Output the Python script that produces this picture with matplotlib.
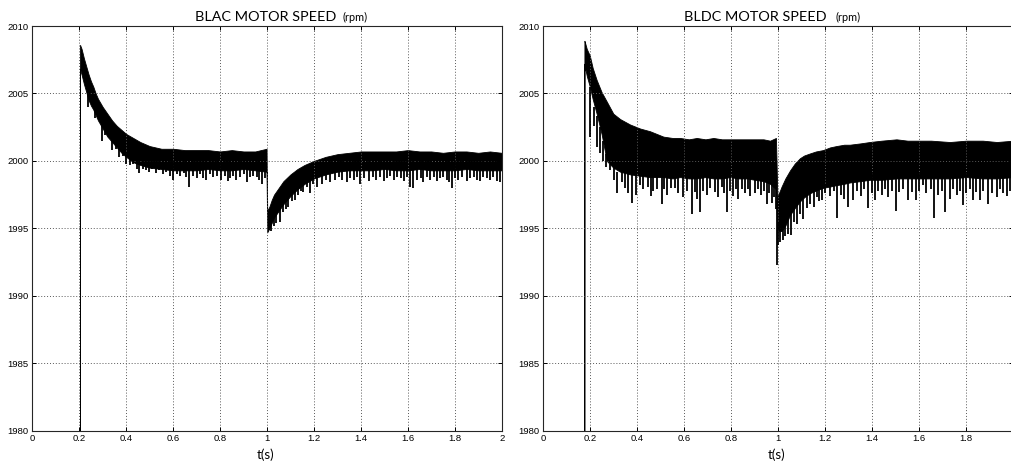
import numpy as np
import matplotlib.pyplot as plt
from matplotlib.ticker import FormatStrFormatter

# ---- BLAC motor speed (left) : band envelope ----
blac_t = [0.2030, 0.2035, 0.21, 0.22, 0.23, 0.24, 0.25, 0.26, 0.27, 0.28,
          0.30, 0.32, 0.34, 0.36, 0.38, 0.40, 0.43, 0.46, 0.50, 0.55,
          0.60, 0.65, 0.70, 0.75, 0.80, 0.85, 0.90, 0.95, 0.998, 1.001,
          1.01, 1.02, 1.03, 1.05, 1.07, 1.10, 1.13, 1.16, 1.20, 1.25,
          1.30, 1.35, 1.40, 1.45, 1.50, 1.55, 1.60, 1.65, 1.70, 1.75,
          1.80, 1.85, 1.90, 1.95, 2.00]
blac_hi = [1975, 2008.6, 2008.3, 2007.6, 2007.0, 2006.4, 2005.9, 2005.5, 2005.0, 2004.6,
           2004.0, 2003.5, 2003.0, 2002.6, 2002.3, 2002.0, 2001.7, 2001.4, 2001.1, 2000.9,
           2000.9, 2000.8, 2000.8, 2000.8, 2000.7, 2000.8, 2000.7, 2000.7, 2000.9, 1996.3,
           1996.6, 1997.1, 1997.5, 1998.0, 1998.5, 1999.0, 1999.4, 1999.7, 2000.0, 2000.3,
           2000.5, 2000.6, 2000.7, 2000.7, 2000.7, 2000.7, 2000.8, 2000.7, 2000.7, 2000.6,
           2000.7, 2000.7, 2000.6, 2000.7, 2000.6]
blac_lo = [1975, 2006.8, 2006.4, 2005.7, 2005.1, 2004.5, 2004.1, 2003.8, 2003.4, 2003.0,
           2002.4, 2001.8, 2001.4, 2001.0, 2000.6, 2000.3, 1999.9, 1999.7, 1999.5, 1999.4,
           1999.3, 1999.3, 1999.3, 1999.4, 1999.3, 1999.3, 1999.4, 1999.3, 1999.2, 1994.7,
           1995.0, 1995.4, 1995.8, 1996.3, 1996.8, 1997.4, 1997.9, 1998.3, 1998.7, 1999.0,
           1999.2, 1999.3, 1999.3, 1999.3, 1999.4, 1999.3, 1999.3, 1999.4, 1999.3, 1999.3,
           1999.3, 1999.4, 1999.3, 1999.3, 1999.3]
# downward spikes below the band: time, bottom, top
blac_spk_t = [0.239, 0.266, 0.296, 0.31, 0.339, 0.355, 0.368, 0.385, 0.400, 0.415,
              0.43, 0.445, 0.456, 0.47, 0.485, 0.498, 0.512, 0.527, 0.54, 0.555,
              0.57, 0.585, 0.601, 0.615, 0.63, 0.645, 0.657, 0.669, 0.685, 0.70,
              0.714, 0.728, 0.742, 0.757, 0.771, 0.785, 0.806, 0.82, 0.832, 0.842,
              0.856, 0.870, 0.885, 0.90, 0.913, 0.928, 0.942, 0.956, 0.967, 0.977,
              0.99,
              1.008, 1.015, 1.028, 1.04, 1.055, 1.068, 1.08, 1.091, 1.105, 1.119,
              1.133, 1.145, 1.155, 1.17, 1.183, 1.198, 1.212, 1.233, 1.25, 1.269,
              1.29, 1.305, 1.32, 1.34, 1.355, 1.369, 1.385, 1.397, 1.415, 1.433,
              1.45, 1.465, 1.48, 1.497, 1.51, 1.525, 1.539, 1.555, 1.57, 1.585,
              1.598, 1.609, 1.624, 1.64, 1.655, 1.666, 1.68, 1.695, 1.71, 1.723,
              1.738, 1.752, 1.765, 1.777, 1.787, 1.80, 1.815, 1.83, 1.851, 1.865,
              1.88, 1.895, 1.908, 1.922, 1.936, 1.95, 1.965, 1.978, 1.993]
blac_spk_lo = [2004.0, 2003.2, 2001.5, 2001.9, 2000.8, 2000.9, 2000.3, 2000.4, 1999.8, 1999.7,
               1999.8, 1999.4, 1999.1, 1999.4, 1999.3, 1999.2, 1999.4, 1999.1, 1999.3, 1999.0,
               1999.2, 1998.9, 1998.6, 1999.0, 1998.9, 1999.1, 1998.8, 1998.1, 1998.9, 1998.7,
               1999.0, 1998.7, 1998.6, 1999.0, 1998.8, 1998.9, 1998.6, 1998.9, 1998.5, 1998.7,
               1998.9, 1998.6, 1998.8, 1999.0, 1998.4, 1998.8, 1998.9, 1998.8, 1998.6, 1998.3,
               1998.7,
               1994.9, 1994.8, 1995.2, 1995.4, 1995.5, 1996.2, 1996.4, 1996.6, 1997.0, 1997.1,
               1997.5, 1997.8, 1997.7, 1998.1, 1997.6, 1998.3, 1998.1, 1998.3, 1998.6, 1998.4,
               1998.6, 1998.8, 1998.6, 1998.4, 1998.7, 1998.6, 1998.8, 1998.3, 1998.7, 1998.5,
               1998.8, 1998.6, 1998.8, 1998.5, 1998.7, 1998.9, 1998.6, 1998.8, 1998.7, 1998.5,
               1998.8, 1998.1, 1998.0, 1998.6, 1998.7, 1998.4, 1998.8, 1998.6, 1998.8, 1998.5,
               1998.7, 1998.8, 1998.6, 1998.4, 1998.0, 1998.7, 1998.6, 1998.8, 1998.5, 1998.7,
               1998.8, 1998.6, 1998.5, 1998.8, 1998.7, 1998.6, 1998.8, 1998.5, 1998.4]
blac_spk_hi = ([2005.0, 2004.0, 2002.8, 2002.3, 2001.8, 2001.5, 2001.3, 2001.0, 2000.6, 2000.5,
                2000.3, 2000.2] + [2000.0] * 39
               + [1995.3, 1995.5, 1996.0, 1996.2, 1996.7, 1997.0, 1997.2, 1997.5, 1997.8, 1998.0,
                  1998.3, 1998.5, 1998.6, 1998.8, 1999.0, 1999.1, 1999.2, 1999.4, 1999.5]
               + [2000.0] * 50)

# ---- BLDC motor speed (right) ----
bldc_t = [0.1745, 0.1750, 0.177, 0.185, 0.198, 0.21, 0.227, 0.248, 0.27, 0.298,
          0.327, 0.369, 0.412, 0.454, 0.511, 0.55, 0.582, 0.62, 0.653, 0.69,
          0.724, 0.76, 0.795, 0.83, 0.866, 0.90, 0.937, 0.965, 0.990, 0.996,
          1.005, 1.014, 1.03, 1.05, 1.07, 1.092, 1.11, 1.134, 1.16, 1.19,
          1.22, 1.247, 1.28, 1.304, 1.35, 1.389, 1.44, 1.503, 1.55, 1.588,
          1.65, 1.73, 1.80, 1.87, 1.93, 2.0]
bldc_hi = [1975, 2008.9, 2008.8, 2008.3, 2007.8, 2006.9, 2006.0, 2005.1, 2004.4, 2003.5,
           2003.1, 2002.7, 2002.4, 2002.2, 2001.8, 2001.7, 2001.7, 2001.6, 2001.7, 2001.6,
           2001.7, 2001.6, 2001.6, 2001.6, 2001.6, 2001.6, 2001.6, 2001.5, 2001.7, 1997.4,
           1997.7, 1998.1, 1998.7, 1999.3, 1999.8, 2000.2, 2000.4, 2000.55, 2000.7, 2000.8,
           2001.0, 2001.1, 2001.2, 2001.2, 2001.3, 2001.4, 2001.5, 2001.6, 2001.5, 2001.5,
           2001.5, 2001.4, 2001.5, 2001.5, 2001.4, 2001.5]
bldc_lo = [1975, 2007.2, 2007.0, 2006.3, 2005.5, 2004.6, 2003.5, 2002.0, 2000.0, 1999.5,
           1999.2, 1999.0, 1998.9, 1998.8, 1998.8, 1998.7, 1998.8, 1998.7, 1998.7, 1998.8,
           1998.7, 1998.7, 1998.8, 1998.7, 1998.7, 1998.6, 1998.5, 1998.3, 1997.9, 1995.0,
           1994.8, 1994.8, 1995.2, 1996.0, 1996.5, 1997.0, 1997.3, 1997.6, 1997.8, 1998.0,
           1998.1, 1998.2, 1998.3, 1998.4, 1998.5, 1998.6, 1998.6, 1998.7, 1998.7, 1998.7,
           1998.7, 1998.7, 1998.8, 1998.7, 1998.7, 1998.8]
bldc_spk_t = [0.199, 0.215, 0.228, 0.241, 0.255, 0.267, 0.284, 0.30, 0.315, 0.333,
              0.347, 0.361, 0.378, 0.393, 0.410, 0.425, 0.446, 0.457, 0.467, 0.485,
              0.503, 0.515, 0.527, 0.545, 0.560, 0.575, 0.596, 0.61, 0.631, 0.645,
              0.655, 0.667, 0.68, 0.695, 0.71, 0.731, 0.745, 0.759, 0.770, 0.780,
              0.795, 0.809, 0.820, 0.830, 0.845, 0.858, 0.870, 0.880, 0.901, 0.915,
              0.928, 0.940, 0.951, 0.962, 0.972, 0.983, 0.990, 0.994,
              0.998, 1.008, 1.019, 1.03, 1.040, 1.055, 1.068, 1.08, 1.092, 1.106,
              1.12, 1.135, 1.15, 1.163, 1.175, 1.184, 1.20, 1.220, 1.235, 1.251,
              1.265, 1.28, 1.298, 1.319, 1.335, 1.35, 1.365, 1.383, 1.397, 1.411,
              1.425, 1.44, 1.455, 1.468, 1.485, 1.500, 1.515, 1.53, 1.553, 1.568,
              1.588, 1.60, 1.617, 1.63, 1.648, 1.664, 1.68, 1.695, 1.709, 1.730,
              1.745, 1.76, 1.775, 1.787, 1.80, 1.815, 1.829, 1.843, 1.858, 1.872,
              1.894, 1.91, 1.929, 1.945, 1.958, 1.972, 1.985]
bldc_spk_lo = [2001.8, 2002.6, 2001.0, 2000.55, 2000.0, 1999.55, 1999.3, 1998.6, 1997.6, 1998.4,
               1998.0, 1997.6, 1996.9, 1997.5, 1998.2, 1997.9, 1998.1, 1997.4, 1997.8, 1997.9,
               1996.8, 1997.9, 1997.5, 1998.0, 1998.0, 1997.6, 1997.3, 1997.8, 1996.1, 1997.7,
               1997.2, 1996.2, 1997.8, 1997.5, 1998.0, 1997.7, 1997.3, 1998.1, 1997.6, 1996.2,
               1997.8, 1997.4, 1997.9, 1997.2, 1997.9, 1997.6, 1997.9, 1997.4, 1997.6, 1997.9,
               1997.5, 1997.8, 1996.8, 1997.6, 1996.9, 1997.3, 1996.4, 1992.3,
               1993.8, 1994.0, 1994.1, 1994.4, 1994.6, 1994.5, 1995.5, 1995.3, 1996.1, 1995.7,
               1996.5, 1996.8, 1996.6, 1997.3, 1997.0, 1997.1, 1997.6, 1997.4, 1997.8, 1995.8,
               1997.5, 1997.2, 1996.6, 1997.1, 1997.8, 1997.4, 1997.9, 1996.5, 1997.6, 1997.1,
               1997.8, 1997.5, 1997.9, 1997.3, 1997.8, 1996.3, 1997.7, 1997.9, 1997.1, 1997.7,
               1997.1, 1997.8, 1998.2, 1997.6, 1997.9, 1995.8, 1997.5, 1997.8, 1996.2, 1997.2,
               1997.9, 1997.5, 1997.8, 1996.7, 1997.6, 1997.9, 1997.1, 1997.7, 1997.1, 1997.8,
               1996.8, 1997.6, 1997.3, 1997.9, 1997.6, 1997.4, 1997.8]
bldc_spk_hi = ([2005.5, 2004.0, 2003.3, 2002.5, 2001.5, 2000.5, 1999.8, 1999.6] + [1999.2] * 46
               + [1999.0, 1998.8, 1998.5, 1997.0]
               + [1995.5, 1995.4, 1995.3, 1995.5, 1995.8, 1996.2, 1996.6, 1996.8, 1997.2, 1997.4,
                  1997.6, 1997.8, 1997.9, 1998.0, 1998.1, 1998.2, 1998.3, 1998.4, 1998.5, 1998.5,
                  1998.6, 1998.6, 1998.7, 1998.7, 1998.8]
               + [1999.0] * 42)

xticks = [0, 0.2, 0.4, 0.6, 0.8, 1, 1.2, 1.4, 1.6, 1.8, 2]
yticks = [1980, 1985, 1990, 1995, 2000, 2005, 2010]

W, H = 1011, 467
fig = plt.figure(figsize=(W / 100, H / 100), dpi=100)


def panel(rect, t, hi, lo, st, slo, shi):
    ax = fig.add_axes(rect)
    ax.fill_between(t, lo, hi, color='k', lw=0.6, edgecolor='k')
    ax.vlines(st, slo, shi, color='k', lw=1.3)
    ax.set_xlim(0, 2)
    ax.set_ylim(1980, 2010)
    ax.set_xticks(xticks)
    ax.set_yticks(yticks)
    ax.xaxis.set_major_formatter(FormatStrFormatter('%g'))
    ax.grid(True, color='0.35', lw=0.7, linestyle=(0, (1, 2)))
    ax.tick_params(direction='in', length=3, width=0.7, top=True, right=True,
                   labelsize=6.8, pad=2.6, colors='k')
    for lab in ax.get_xticklabels() + ax.get_yticklabels():
        lab.set_family('Liberation Sans')
    for s in ax.spines.values():
        s.set_linewidth(0.8)
        s.set_color('0.15')
    return ax


panel([32.3 / W, 36.3 / H, 469.4 / W, 404.7 / H],
      blac_t, blac_hi, blac_lo, blac_spk_t, blac_spk_lo, blac_spk_hi)
panel([543.3 / W, 36.3 / H, 470 / W, 404.7 / H],
      bldc_t, bldc_hi, bldc_lo, bldc_spk_t, bldc_spk_lo, bldc_spk_hi)

ty = 1 - 20.7 / H
fig.text(195 / W, ty, 'BLAC MOTOR SPEED', fontsize=10.4, family='Lato', va='baseline')
fig.text(342.7 / W, ty, '(rpm)', fontsize=7.8, family='Lato', va='baseline')
fig.text(684 / W, ty, 'BLDC MOTOR SPEED', fontsize=10.4, family='Lato', va='baseline')
fig.text(835 / W, ty, '(rpm)', fontsize=7.8, family='Lato', va='baseline')

ly = 1 - 459.3 / H
fig.text(265.5 / W, ly, 't(s)', fontsize=9.5, family='Lato', ha='center', va='baseline')
fig.text(777 / W, ly, 't(s)', fontsize=9.5, family='Lato', ha='center', va='baseline')

fig.savefig('out.png', dpi=100)
